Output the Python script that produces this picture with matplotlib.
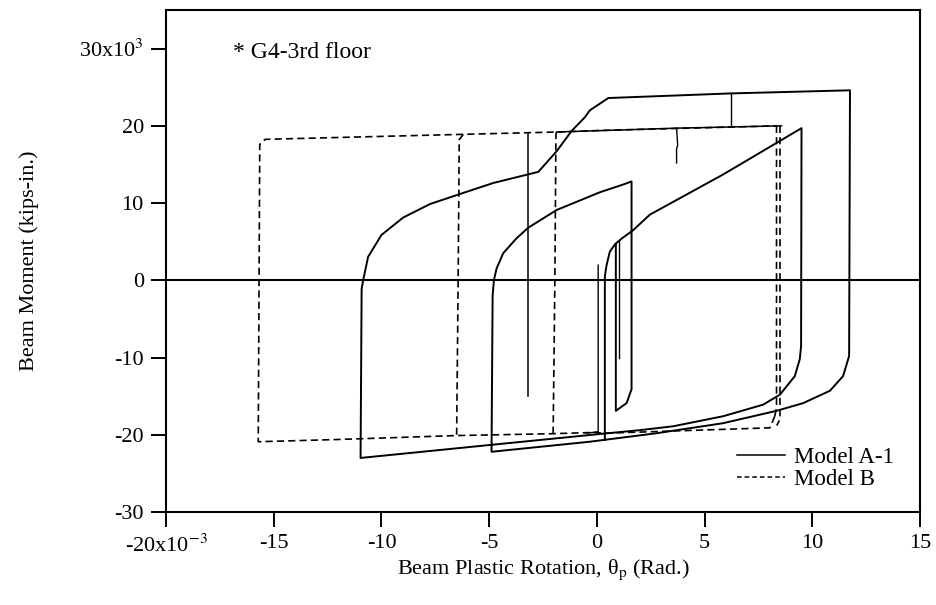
import numpy as np
import matplotlib
matplotlib.use('Agg')
import matplotlib.pyplot as plt
from matplotlib.lines import Line2D

plt.rcParams['font.family'] = ['Liberation Serif', 'DejaVu Serif']
plt.rcParams['mathtext.fontset'] = 'stix'

# Axis ticks (rotation in 10^-3 rad, moment in 10^3 kips-in.)
x_ticks = [-20, -15, -10, -5, 0, 5, 10, 15]
x_tick_labels = ['-20x10$^{-3}$', '-15', '-10', '-5', '0', '5', '10', '15']
y_ticks = [-30, -20, -10, 0, 10, 20, 30]
y_tick_labels = ['-30', '-20', '-10', '0', '10', '20', '30x10$^3$']

# Model A-1 (solid), main hysteresis path
a_loop_x = [0.37, 0.37, 0.45, 0.6, 0.85, 1.15, 1.69, 2.46, 5.86, 9.5,
            9.48, 9.42, 9.19, 8.5, 7.72, 5.86, 3.54, 2.0, 0.14, -4.89, -10.97,
            -10.92, -10.85, -10.62, -10.0, -8.99, -7.75, -6.36, -4.81, -2.72,
            -1.87, -1.17, -0.56, -0.33, 0.53, 6.25, 11.75,
            11.71, 11.43, 10.82, 9.58, 8.34, 5.86, 2.77, -0.33, -4.89,
            -4.84, -4.78, -4.66, -4.35, -3.73, -3.19, -1.87, 0.14, 1.22, 1.61,
            1.61, 1.38, 0.88, 0.88]
a_loop_y = [-20.6, 0.5, 1.96, 3.7, 4.7, 5.4, 6.5, 8.5, 13.7, 19.7,
            -8.5, -10.2, -12.4, -14.8, -16.1, -17.6, -18.9, -19.4, -19.9, -21.3, -23.0,
            -1.1, 0.0, 3.04, 5.87, 8.13, 9.87, 11.17, 12.6, 14.04,
            16.7, 19.35, 21.1, 22.0, 23.6, 24.2, 24.6,
            -9.8, -12.4, -14.3, -15.9, -16.9, -18.5, -19.8, -20.9, -22.2,
            -2.0, 0.0, 1.5, 3.5, 5.44, 6.8, 9.1, 11.4, 12.4, 12.8,
            -14.1, -15.9, -16.9, 4.6]

# Model A-1, short extra branches
a_v0_x = [0.06, 0.06, -0.5]
a_v0_y = [1.96, -19.6, -19.8]
a_v1_x = [1.05, 1.05]
a_v1_y = [-10.0, 5.1]
a_top_x = [-1.87, 3.7, 8.57]
a_top_y = [19.2, 19.7, 20.0]
a_drop1_x = [3.7, 3.75, 3.7, 3.7]
a_drop1_y = [19.7, 17.5, 17.0, 15.2]
a_drop2_x = [6.22, 6.22]
a_drop2_y = [24.2, 20.0]
a_drop3_x = [-3.22, -3.22]
a_drop3_y = [19.1, -15.0]

# Model B (dashed)
b_loop_x = [8.26, 8.03, 0.37, -0.17, -2.03, -6.51, -11.9, -15.72,
            -15.65, -15.4, -11.9, -6.2, -1.87, 0.14, 8.4]
b_loop_y = [-17.6, -19.1, -19.8, -19.7, -19.86, -20.1, -20.6, -20.9,
            17.6, 18.25, 18.5, 18.9, 19.2, 19.4, 20.0]
b_r1_x = [8.34, 8.34, 8.26]
b_r1_y = [20.0, -16.5, -17.6]
b_r2_x = [8.5, 8.5, 8.35]
b_r2_y = [20.0, -18.0, -18.8]
b_v1_x = [-6.2, -6.39, -6.44, -6.51]
b_v1_y = [18.9, 18.2, 0.0, -20.1]
b_v2_x = [-1.87, -1.9, -1.95, -2.03]
b_v2_y = [19.2, 18.9, 0.0, -19.86]

fig = plt.figure(figsize=(9.36, 6.05), dpi=100)
ax = fig.add_axes([0.1774, 0.1537, 0.8055, 0.8298])

solid = dict(color='black', lw=1.4, solid_joinstyle='round')
ax.plot(a_loop_x, a_loop_y, **solid)
ax.plot(a_v0_x, a_v0_y, color='black', lw=1.0)
ax.plot(a_v1_x, a_v1_y, color='black', lw=1.0)
ax.plot(a_top_x, a_top_y, color='black', lw=1.1)
ax.plot(a_drop1_x, a_drop1_y, color='black', lw=1.0)
ax.plot(a_drop2_x, a_drop2_y, color='black', lw=1.0)
ax.plot(a_drop3_x, a_drop3_y, color='black', lw=1.1)

dashed = dict(color='black', lw=1.2, dashes=(4.3, 2.5))
for bx, by in [(b_loop_x, b_loop_y), (b_r1_x, b_r1_y), (b_r2_x, b_r2_y),
               (b_v1_x, b_v1_y), (b_v2_x, b_v2_y)]:
    ax.plot(bx, by, **dashed)

ax.axhline(0, color='black', lw=1.5)

ax.set_xlim(-20, 15)
ax.set_ylim(-30, 35)
ax.set_xticks(x_ticks)
ax.set_xticklabels(x_tick_labels)
ax.set_yticks(y_ticks)
ax.set_yticklabels(y_tick_labels)
ax.tick_params(direction='out', length=11, width=1.4, labelsize=16, pad=5)
for s in ax.spines.values():
    s.set_linewidth(1.5)

ax.set_xlabel('Beam Plastic Rotation, θ$_\\mathrm{p}$ (Rad.)', fontsize=16, labelpad=1)
ax.set_ylabel('Beam Moment (kips-in.)', fontsize=16, labelpad=29)

ax.text(-16.9, 29.5, '* G4-3rd floor', fontsize=17, ha='left', va='center')

handles = [Line2D([], [], color='black', lw=1.1),
           Line2D([], [], color='black', lw=1.1, dashes=(3, 2))]
ax.legend(handles, ['Model A-1', 'Model B'], loc='center left',
          bbox_to_anchor=(0.757, 0.086), frameon=False, fontsize=16.5,
          handlelength=2.1, handletextpad=0.4, labelspacing=0.05,
          borderpad=0, borderaxespad=0)

fig.savefig('out.png', dpi=100)
